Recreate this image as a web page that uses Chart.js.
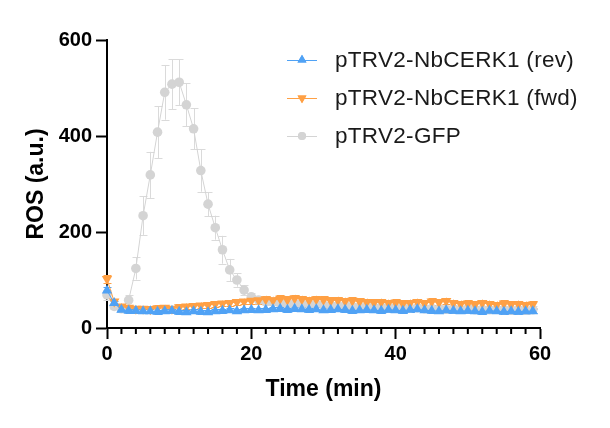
<!DOCTYPE html>
<html><head><meta charset="utf-8">
<script src="https://cdn.jsdelivr.net/npm/chart.js@4.4.1/dist/chart.umd.min.js"></script>
<style>html,body{margin:0;padding:0;background:#fff}#wrap{width:610px;height:428px}</style>
</head><body><div id="wrap"><canvas id="c" width="610" height="428"></canvas></div>
<script>
const timeMin = [0,1,2,3,4,5,6,7,8,9,10,11,12,13,14,15,16,17,18,19,20,21,22,23,24,25,26,27,28,29,30,31,32,33,34,35,36,37,38,39,40,41,42,43,44,45,46,47,48,49,50,51,52,53,54,55,56,57,58,59];
const seriesNames = ['pTRV2-NbCERK1 (rev)', 'pTRV2-NbCERK1 (fwd)', 'pTRV2-GFP'];
const revMean = [78,52,38,36,36,35,35,34,35,36,34,33,35,34,33,35,36,37,35,37,38,37,38,39,40,38,40,39,38,39,37,38,39,38,36,37,38,37,36,38,37,36,38,39,37,36,35,37,36,35,36,35,34,36,35,34,35,34,35,35];
const revErr = [8,5,4,4,4,4,4,4,4,4,4,4,4,4,4,4,4,4,4,4,4,4,4,4,4,4,4,4,4,4,4,4,4,4,4,4,4,4,4,4,4,4,4,4,4,4,4,4,4,4,4,4,4,4,4,4,4,4,4,4];
const fwdMean = [102,55,45,42,40,40,39,41,42,40,43,45,46,47,48,50,51,52,54,55,57,58,60,58,61,59,62,60,58,60,59,57,58,56,57,55,54,53,54,52,53,51,52,54,51,55,53,56,52,50,51,49,52,50,48,51,49,50,48,49];
const fwdErr = [8,6,6,6,6,6,6,6,6,6,6,6,6,6,6,6,6,6,6,6,7,7,7,7,7,7,7,7,7,7,7,7,7,7,7,7,7,7,7,7,7,7,7,7,7,7,7,7,7,7,7,7,7,7,7,7,7,7,7,7];
const gfpMean = [69,45,40,58,124,234,319,408,491,508,512,465,415,328,258,209,163,121,100,79,65,58,55,54,52,50,51,50,49,50,48,47,46,47,45,44,45,43,44,42,43,42,41,42,40,41,40,39,40,39,40,38,39,38,39,38,37,38,37,38];
const gfpErr = [10,5,5,10,23,40,48,54,57,52,48,45,43,44,25,25,29,23,14,10,8,8,7,7,7,7,7,7,7,7,7,7,7,7,7,7,7,7,7,7,7,7,7,7,7,7,7,7,7,7,7,7,7,7,7,7,7,7,7,7];
const xTickValues = [0,20,40,60];
const yTickValues = [0,200,400,600];

const colors = ['rgb(80,162,245)', 'rgb(255,160,68)', 'rgb(212,212,212)'];
const means = [revMean, fwdMean, gfpMean];
const errs = [revErr, fwdErr, gfpErr];
const styles = [{ps:'triangle', rot:0, r:6}, {ps:'triangle', rot:180, r:6}, {ps:'circle', rot:0, r:4.8}];

const datasets = seriesNames.map((name, i) => ({
  label: name,
  data: timeMin.map((t, k) => ({x: t, y: means[i][k]})),
  errors: errs[i],
  borderColor: colors[i],
  backgroundColor: colors[i],
  borderWidth: 1,
  pointStyle: styles[i].ps,
  pointRotation: styles[i].rot,
  pointRadius: styles[i].r,
  pointBorderWidth: 0,
  pointHoverRadius: styles[i].r,
  tension: 0,
  clip: false
}));

const errorBars = {
  id: 'errorBars',
  beforeDatasetsDraw(chart) {
    const {ctx, scales: {x, y}} = chart;
    ctx.save();
    ctx.lineWidth = 1;
    for (let i = chart.data.datasets.length - 1; i >= 0; i--) {
      const ds = chart.data.datasets[i];
      ctx.strokeStyle = i === 2 ? 'rgb(218,218,218)' : ds.borderColor;
      ds.data.forEach((p, k) => {
        const e = ds.errors[k];
        const px = Math.round(x.getPixelForValue(p.x)) + 0.5;
        const y1 = y.getPixelForValue(p.y + e), y2 = y.getPixelForValue(p.y - e);
        ctx.beginPath();
        ctx.moveTo(px, y1); ctx.lineTo(px, y2);
        ctx.moveTo(px - 4, Math.round(y1) + 0.5); ctx.lineTo(px + 4, Math.round(y1) + 0.5);
        ctx.moveTo(px - 4, Math.round(y2) + 0.5); ctx.lineTo(px + 4, Math.round(y2) + 0.5);
        ctx.stroke();
      });
    }
    ctx.restore();
  }
};

const minorTicks = {
  id: 'minorTicks',
  afterDraw(chart) {
    const {ctx, scales: {x}, chartArea} = chart;
    ctx.save();
    ctx.strokeStyle = '#000';
    ctx.lineWidth = 2;
    for (let v = 2; v < 60; v += 2) {
      if (v % 20 === 0) continue;
      const px = x.getPixelForValue(v);
      ctx.beginPath();
      ctx.moveTo(px, chartArea.bottom);
      ctx.lineTo(px, chartArea.bottom + 6);
      ctx.stroke();
    }
    ctx.restore();
  }
};

const legendRows = [60, 98, 136];
const customLegend = {
  id: 'customLegend',
  afterDraw(chart) {
    const {ctx} = chart;
    ctx.save();
    chart.data.datasets.forEach((ds, i) => {
      const yy = legendRows[i];
      ctx.strokeStyle = ds.borderColor;
      ctx.lineWidth = 1;
      ctx.beginPath();
      ctx.moveTo(287, yy + 0.5); ctx.lineTo(317, yy + 0.5);
      ctx.stroke();
      ctx.fillStyle = ds.backgroundColor;
      Chart.helpers.drawPoint(ctx, {pointStyle: ds.pointStyle, rotation: ds.pointRotation, radius: ds.pointRadius - 0.8, borderWidth: 0}, 302, yy);
      ctx.fill();
      ctx.fillStyle = '#1a1a1a';
      ctx.font = '22.5px "Liberation Sans", Arial, sans-serif';
      if ('letterSpacing' in ctx) ctx.letterSpacing = '0.3px';
      ctx.textBaseline = 'middle';
      ctx.textAlign = 'left';
      ctx.fillText(ds.label, 335, yy + 1);
    });
    ctx.restore();
  }
};

new Chart(document.getElementById('c'), {
  type: 'line',
  data: {datasets},
  options: {
    responsive: false,
    animation: false,
    events: [],
    layout: {padding: {top: 40, right: 70, left: 0, bottom: 0}},
    plugins: {legend: {display: false}, tooltip: {enabled: false}},
    scales: {
      x: {
        type: 'linear', min: 0, max: 60,
        afterBuildTicks: s => { s.ticks = xTickValues.map(v => ({value: v})); },
        afterFit: s => { s.height = 100; },
        border: {color: '#000', width: 2},
        grid: {drawOnChartArea: false, tickLength: 11, tickWidth: 2, tickColor: '#000'},
        ticks: {color: '#000', padding: 3, font: {family: '"Liberation Sans", Arial', size: 20, weight: 'bold'}},
        title: {display: true, text: 'Time (min)', color: '#000', padding: {top: 0, bottom: 25}, font: {family: '"Liberation Sans", Arial', size: 23, weight: 'bold'}}
      },
      y: {
        type: 'linear', min: 0, max: 600,
        afterBuildTicks: s => { s.ticks = yTickValues.map(v => ({value: v})); },
        afterFit: s => { s.width = 107; },
        border: {color: '#000', width: 2},
        grid: {drawOnChartArea: false, tickLength: 11, tickWidth: 2, tickColor: '#000'},
        ticks: {color: '#000', padding: 4, font: {family: '"Liberation Sans", Arial', size: 20, weight: 'bold'}},
        title: {display: true, text: 'ROS (a.u.)', color: '#000', padding: {top: 23, bottom: 0}, font: {family: '"Liberation Sans", Arial', size: 23, weight: 'bold'}}
      }
    }
  },
  plugins: [errorBars, minorTicks, customLegend]
});
</script></body></html>
